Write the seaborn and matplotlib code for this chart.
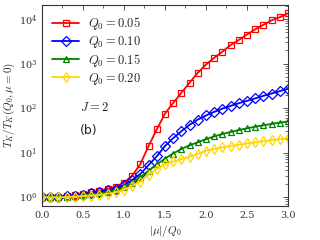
import numpy as np
import pandas as pd
import matplotlib
matplotlib.use("Agg")
import matplotlib.pyplot as plt
import seaborn as sns
from matplotlib.ticker import LogLocator, MultipleLocator, NullFormatter

sns.set_style("white")
plt.rcParams['mathtext.fontset'] = 'cm'
plt.rcParams['font.family'] = ['DejaVu Serif']

mu = [round(0.1 * i, 1) for i in range(31)]

t_005 = [1.0, 1.0, 1.02, 1.05, 1.1, 1.18, 1.28, 1.38, 1.52, 1.7, 2.1, 3.0, 5.5, 14, 33, 75,
         130, 220, 370, 620, 950, 1350, 1850, 2600, 3400, 4500, 5900, 7400, 9400, 11000, 13500]
t_010 = [1.0, 1.0, 1.02, 1.04, 1.08, 1.13, 1.2, 1.28, 1.4, 1.55, 1.85, 2.4, 3.3, 5.2, 8.2, 14,
         21, 30, 42, 55, 68, 82, 97, 112, 128, 145, 165, 188, 212, 240, 270]
t_015 = [1.0, 0.99, 1.0, 1.02, 1.05, 1.09, 1.14, 1.2, 1.3, 1.42, 1.65, 2.1, 2.8, 3.9, 5.4, 7.3,
         9.5, 12, 14.5, 17, 20, 23, 26, 29, 32, 35, 38, 41, 44, 47, 50]
t_020 = [1.0, 0.98, 0.98, 1.0, 1.02, 1.05, 1.08, 1.12, 1.18, 1.27, 1.45, 1.8, 2.2, 3.2, 4.3, 5.4,
         6.3, 7.1, 8.1, 9.3, 11, 12, 13, 14, 15, 16, 17, 18, 19, 20, 21]

labels = [r'$Q_0 = 0.05$', r'$Q_0 = 0.10$', r'$Q_0 = 0.15$', r'$Q_0 = 0.20$']
series = [t_005, t_010, t_015, t_020]
colors = ['#ff0000', '#0000ff', '#008000', '#ffd700']
markers = ['s', 'D', '^', 'd']

fig = plt.figure(figsize=(3.2, 2.4), dpi=100)
ax = fig.add_axes([0.131, 0.142, 0.769, 0.837])

for lab, ys, c, m in zip(labels, series, colors, markers):
    df = pd.DataFrame({'mu': mu, 'T': ys})
    sns.lineplot(data=df, x='mu', y='T', ax=ax, color=c, marker=m, markersize=5,
                 markerfacecolor='none', markeredgecolor=c, markeredgewidth=0.9,
                 linewidth=1.3, label=lab)

ax.set_yscale('log')
ax.set_xlim(0, 3.0)
ax.set_ylim(0.63, 2.07e4)
ax.xaxis.set_major_locator(MultipleLocator(0.5))
ax.xaxis.set_minor_locator(MultipleLocator(0.25))
ax.yaxis.set_major_locator(LogLocator(base=10, numticks=10))
ax.yaxis.set_minor_locator(LogLocator(base=10, subs=np.arange(2, 10), numticks=20))
ax.yaxis.set_minor_formatter(NullFormatter())
ax.tick_params(which='both', direction='in', top=True, right=True, labelsize=7, colors='#333333')
ax.tick_params(which='major', length=3.5, width=0.6)
ax.tick_params(which='minor', length=2, width=0.5)
for s in ax.spines.values():
    s.set_color('#333333')
    s.set_linewidth(0.8)

ax.set_xlabel(r'$|\mu|/Q_0$', fontsize=8, labelpad=2)
ax.set_ylabel(r'$T_K/T_K(Q_0,\mu=0)$', fontsize=8, labelpad=1)

ax.text(0.47, 105, r'$J=2$', fontsize=9, va='center')
ax.text(0.46, 32, '(b)', fontsize=9, family='DejaVu Sans', va='center')

leg = ax.legend(loc='upper left', frameon=False, fontsize=9, handlelength=2.2,
                handletextpad=0.7, labelspacing=0.15, borderaxespad=0.0,
                bbox_to_anchor=(0.02, 0.975))

fig.savefig('out.png', dpi=100)
